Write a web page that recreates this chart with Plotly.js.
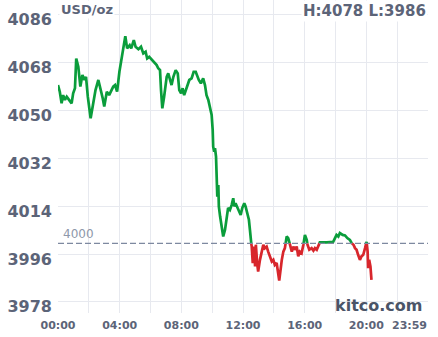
<!DOCTYPE html>
<html>
<head>
<meta charset="utf-8">
<script src="https://cdn.plot.ly/plotly-3.0.1.min.js"></script>
<style>html,body{margin:0;padding:0;background:#fff;}#chart{width:438px;height:337px;}</style>
</head>
<body>
<div id="chart"></div>
<script>
// ---- data ----
const times = ["00:00","00:07","00:14","00:20","00:27","00:34","00:43","00:53","00:59","01:06",
"01:11","01:19","01:27","01:35","01:43","01:49","01:56","02:02","02:07","02:16",
"02:26","02:37","02:44","02:54","03:00","03:10","03:19","03:26","03:35","03:42",
"03:50","03:59","04:05","04:13","04:22","04:29","04:39","04:45","04:55","05:02",
"05:13","05:23","05:32","05:41","05:47","05:55","06:07","06:15","06:24","06:30",
"06:37","06:41","06:46","06:53","07:03","07:09","07:16","07:22","07:29","07:38",
"07:46","07:52","07:59","08:05","08:11","08:18","08:25","08:31","08:40","08:48",
"08:56","09:02","09:08","09:16","09:25","09:32","09:38","09:45","09:52","09:58",
"10:02","10:04","10:08","10:11","10:15","10:17","10:20","10:24","10:26","10:31",
"10:37","10:43","10:50","10:56","11:02","11:09","11:16","11:22","11:26","11:31",
"11:39","11:46","11:51","11:57","12:05","12:10","12:18","12:23","12:27","12:31",
"12:34","12:38","12:43","12:47","12:50","12:55","12:59","13:06","13:13","13:19",
"13:25","13:32","13:38","13:45","13:52","13:58","14:04","14:11","14:17","14:21",
"14:31","14:37","14:43","14:50","14:56","15:03","15:10","15:16","15:22","15:29",
"15:35","15:41","15:48","15:55","16:01","16:08","16:11","16:18","16:27","16:34",
"16:40","16:47","16:53","16:59","17:26","17:51","17:58","18:04","18:11","18:17",
"18:28","18:37","18:46","18:56","19:03","19:10","19:16","19:22","19:28","19:35",
"19:41","19:48","19:55","20:01","20:05","20:07","20:11","20:16","20:20"];
const prices = [4059.6,4057.1,4052.7,4055.8,4054.0,4055.2,4054.0,4052.7,4056.5,4058.4,
4069.6,4066.5,4059.0,4063.4,4061.5,4062.7,4055.2,4050.8,4047.1,4052.1,
4057.7,4061.5,4059.0,4054.6,4051.5,4057.1,4055.8,4057.1,4059.0,4059.6,
4057.1,4064.6,4068.4,4072.8,4078.0,4073.4,4074.6,4073.4,4076.5,4074.0,
4073.1,4074.0,4071.5,4072.1,4069.6,4070.2,4069.0,4067.8,4067.1,4065.9,
4065.2,4057.7,4050.8,4055.2,4062.7,4064.0,4061.5,4059.6,4062.7,4065.2,
4064.0,4057.7,4056.5,4058.4,4055.8,4057.7,4060.2,4061.5,4062.1,4064.6,
4064.6,4062.7,4061.5,4060.2,4062.1,4059.6,4055.8,4054.0,4050.2,4048.3,
4042.7,4036.4,4034.5,4035.8,4032.7,4021.4,4017.6,4022.0,4013.9,4010.1,
4006.3,4002.6,4005.1,4010.1,4013.3,4012.6,4014.5,4017.0,4013.9,4015.1,
4013.3,4012.0,4010.7,4013.3,4015.1,4013.9,4010.7,4008.9,4005.1,4000.7,
3998.8,3992.6,3998.8,3991.3,3999.5,3992.6,3989.4,3993.8,3996.9,3999.5,
3998.2,3998.8,3996.9,3995.1,3993.2,3993.8,3991.9,3992.6,3988.2,3986.0,
3993.8,3996.9,3998.2,4002.6,4002.0,3999.5,3996.9,3998.8,3997.6,3998.8,
3995.1,3996.9,3996.3,3999.5,4003.2,4001.3,3999.5,3997.6,3998.2,3997.3,
3998.2,3997.6,3998.8,4000.4,4000.4,4000.6,4002.0,4003.2,4002.6,4003.9,
4003.2,4003.0,4002.0,4001.3,4000.1,3999.5,3998.2,3997.6,3995.7,3993.8,
3995.1,3995.7,3998.2,4000.6,3996.9,3990.7,3993.8,3991.3,3986.3];
const yTickValues = [3978, 3996, 4014, 4032, 4050, 4068, 4086];
const xTickHours = [0, 4, 8, 12, 16, 20];
const xTickLabels = ["00:00", "04:00", "08:00", "12:00", "16:00", "20:00"];
const lastLabel = "23:59";
const refLevel = 4000;
const refLabel = "4000";
const unitLabel = "USD/oz";
const dayHigh = 4078;
const dayLow = 3986;
const brand = "kitco.com";

// ---- build green (>= ref) and red (< ref) series ----
function toHours(t){ const p = t.split(":"); return +p[0] + (+p[1]) / 60; }
const gx = [], gy = [], rx = [], ry = [];
let ph = null, pv = null;
times.forEach((t, i) => {
  const h = toHours(t), v = prices[i];
  if (pv !== null && (pv - refLevel) * (v - refLevel) < 0) {
    const hc = ph + (refLevel - pv) / (v - pv) * (h - ph);
    gx.push(hc); gy.push(refLevel); rx.push(hc); ry.push(refLevel);
  }
  if (v >= refLevel) { gx.push(h); gy.push(v); rx.push(h); ry.push(null); }
  else { rx.push(h); ry.push(v); gx.push(h); gy.push(null); }
  ph = h; pv = v;
});

const FONT = "DejaVu Sans, Verdana, sans-serif";
const TXT = "#5c6478";
const GRID = "#e7e9ef";

const gridHours = [];
for (let h = 0; h <= 24; h += 2) gridHours.push(h);
const gridText = gridHours.map(h => {
  const k = xTickHours.indexOf(h);
  return k >= 0 ? xTickLabels[k] : "";
});

const traces = [
  {x: gx, y: gy, type: "scatter", mode: "lines", line: {color: "#0a9d3b", width: 2.7}, hoverinfo: "skip"},
  {x: rx, y: ry, type: "scatter", mode: "lines", line: {color: "#d8262c", width: 2.7}, hoverinfo: "skip"}
];

const layout = {
  width: 438, height: 337,
  margin: {l: 58, r: 10, t: 0, b: 24, pad: 0},
  paper_bgcolor: "#ffffff", plot_bgcolor: "#ffffff",
  showlegend: false,
  xaxis: {
    range: [0, 24], tickmode: "array", tickvals: gridHours, ticktext: gridText,
    showgrid: true, gridcolor: GRID, gridwidth: 1, zeroline: false, showline: false, ticks: "",
    tickfont: {family: FONT, size: 11, color: TXT, weight: 700}, ticklabelstandoff: 4
  },
  yaxis: {
    range: [3973.8, 4091.6], tickmode: "array", tickvals: yTickValues,
    ticktext: yTickValues.map(String),
    showgrid: true, gridcolor: GRID, gridwidth: 1, zeroline: false, showline: false, ticks: "",
    tickfont: {family: FONT, size: 16, color: TXT, weight: 700}, ticklabelshift: 5, ticklabelstandoff: 5
  },
  shapes: [
    {type: "line", xref: "paper", x0: 0, x1: 1, yref: "y", y0: refLevel, y1: refLevel,
     line: {color: "#7e89a0", width: 1.3, dash: "6px,3px"}, layer: "above"}
  ],
  annotations: [
    {text: refLabel, xref: "paper", x: 0, xanchor: "left", xshift: 3, yref: "y", y: refLevel, yanchor: "bottom", yshift: 0,
     showarrow: false, font: {family: FONT, size: 12, color: "#8e98aa"}},
    {text: unitLabel, xref: "paper", x: 0, xanchor: "left", xshift: 1, yref: "paper", y: 1, yanchor: "top", yshift: 0,
     showarrow: false, bgcolor: "#ffffff", font: {family: FONT, size: 13, color: TXT, weight: 700}},
    {text: "H:" + dayHigh + " L:" + dayLow, xref: "paper", x: 1, xanchor: "right", xshift: 0, yref: "paper", y: 1, yanchor: "top", yshift: 0,
     showarrow: false, bgcolor: "#ffffff", font: {family: FONT, size: 15, color: TXT, weight: 700}},
    {text: brand, xref: "paper", x: 0.985, xanchor: "right", xshift: 2, yref: "paper", y: 0, yanchor: "bottom", yshift: -4,
     showarrow: false, font: {family: FONT, size: 16, color: "#4a5468", weight: 700}},
    {text: lastLabel, xref: "paper", x: 1, xanchor: "right", xshift: 1, yref: "paper", y: 0, yanchor: "top", yshift: -4,
     showarrow: false, font: {family: FONT, size: 11, color: TXT, weight: 700}}
  ]
};

Plotly.newPlot("chart", traces, layout, {staticPlot: true, displayModeBar: false});
</script>
</body>
</html>
